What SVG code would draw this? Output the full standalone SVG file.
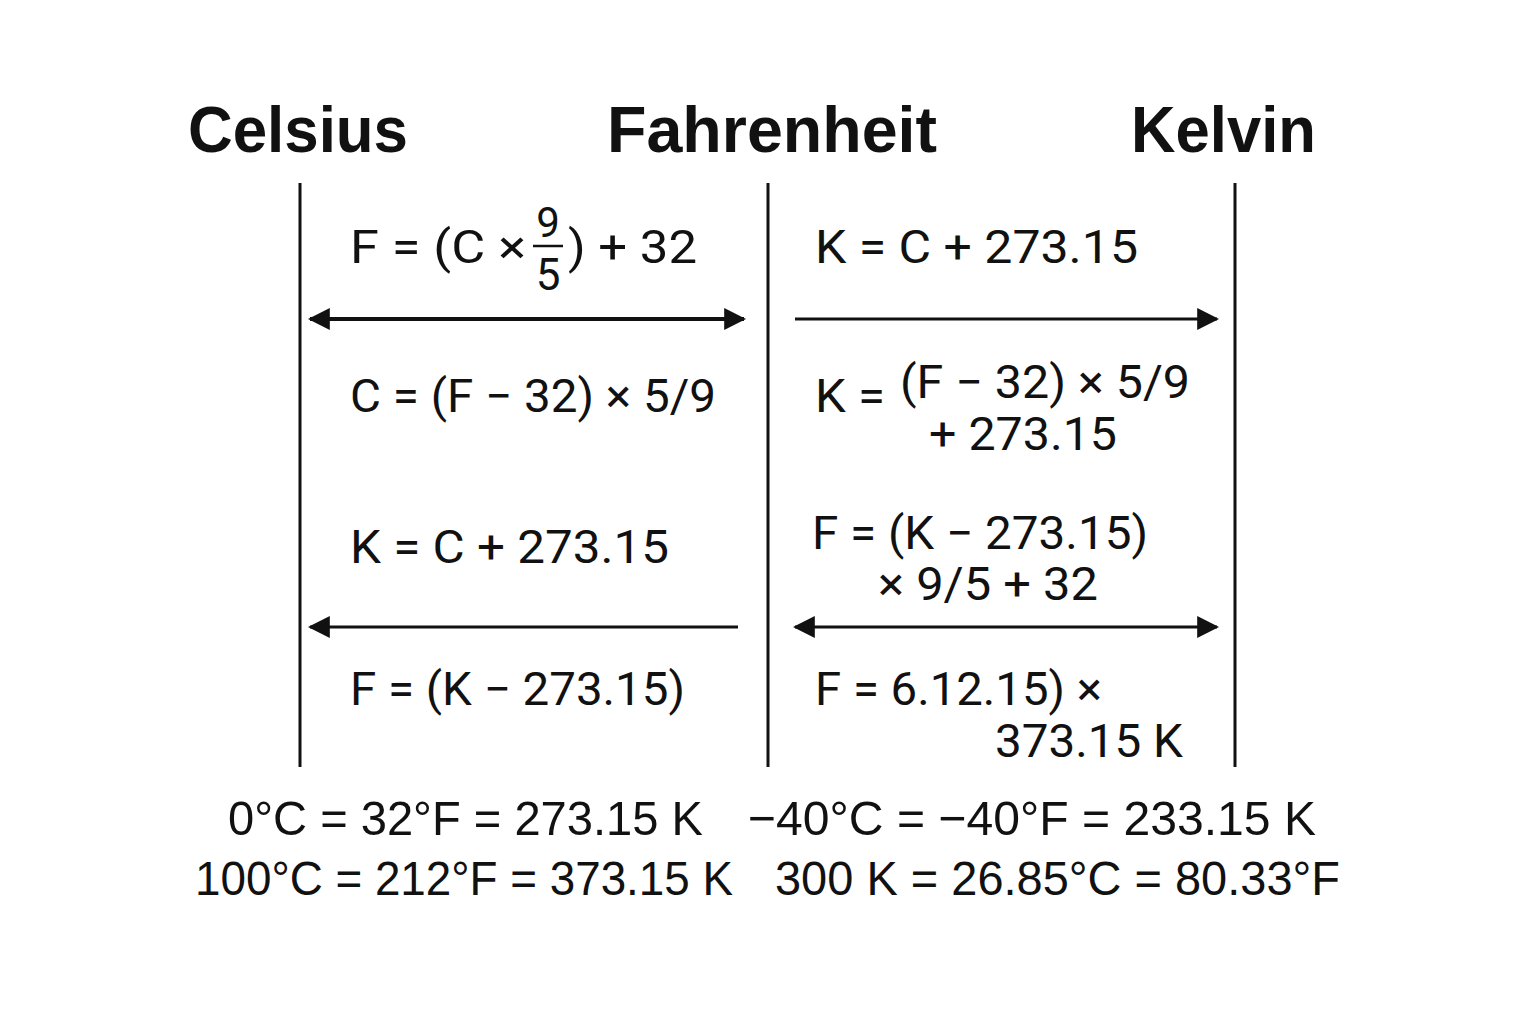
<svg xmlns="http://www.w3.org/2000/svg" width="1536" height="1024" viewBox="0 0 1536 1024">
<defs>
<marker id="ah" viewBox="0 0 10 10" refX="9" refY="5" markerWidth="22" markerHeight="22" markerUnits="userSpaceOnUse" orient="auto-start-reverse">
<path d="M0,0 L10,5 L0,10 z" fill="#111"/>
</marker>
<style>
.hd{font-family:"Liberation Sans",Arial,sans-serif;font-weight:bold;font-size:64px;fill:#111}
.f{font-family:Roboto,"Liberation Sans",sans-serif;font-size:46px;fill:#111}
.b{font-family:"Liberation Sans",Arial,sans-serif;font-size:49px;fill:#111}
.ax{stroke:#111;stroke-width:3;fill:none}
.ar{stroke:#111;stroke-width:3;fill:none}
</style>
</defs>
<rect width="1536" height="1024" fill="#fff"/>
<g id="header-celsius"><text class="hd" x="188" y="152" textLength="220" lengthAdjust="spacingAndGlyphs">Celsius</text></g>
<g id="header-fahrenheit"><text class="hd" x="607" y="152" textLength="330" lengthAdjust="spacingAndGlyphs">Fahrenheit</text></g>
<g id="header-kelvin"><text class="hd" x="1131" y="152" textLength="185" lengthAdjust="spacingAndGlyphs">Kelvin</text></g>
<g id="axes">
<line class="ax" x1="300" y1="183" x2="300" y2="767"/>
<line class="ax" x1="768" y1="183" x2="768" y2="767"/>
<line class="ax" x1="1235" y1="183" x2="1235" y2="767"/>
</g>
<g id="connectors">
<line class="ar" x1="310" y1="319" x2="744" y2="319" marker-start="url(#ah)" marker-end="url(#ah)" style="stroke-width:4"/>
<line class="ar" x1="795" y1="319" x2="1217" y2="319" marker-end="url(#ah)"/>
<line class="ar" x1="738" y1="627" x2="310" y2="627" marker-end="url(#ah)"/>
<line class="ar" x1="795" y1="627" x2="1217" y2="627" marker-start="url(#ah)" marker-end="url(#ah)"/>
</g>
<g id="f-c-to-f">
<text class="f" x="350" y="263" textLength="176" lengthAdjust="spacingAndGlyphs">F = (C ×</text>
<text class="f" x="548" y="237" text-anchor="middle" style="font-size:42px">9</text>
<line x1="533" y1="246" x2="563" y2="246" stroke="#111" stroke-width="2.5"/>
<text class="f" x="548" y="290" text-anchor="middle" style="font-size:44px">5</text>
<text class="f" x="568" y="263" textLength="129" lengthAdjust="spacingAndGlyphs">) + 32</text>
</g>
<g id="f-c-to-k"><text class="f" x="815" y="263" textLength="323" lengthAdjust="spacingAndGlyphs">K = C + 273.15</text></g>
<g id="f-f-to-c"><text class="f" x="350" y="412" textLength="366" lengthAdjust="spacingAndGlyphs">C = (F − 32) × 5/9</text></g>
<g id="f-f-to-k">
<text class="f" x="815" y="412" textLength="70" lengthAdjust="spacingAndGlyphs">K =</text>
<text class="f" x="900" y="398" textLength="290" lengthAdjust="spacingAndGlyphs">(F − 32) × 5/9</text>
<text class="f" x="929" y="450" textLength="188" lengthAdjust="spacingAndGlyphs">+ 273.15</text>
</g>
<g id="f-k-from-c"><text class="f" x="350" y="563" textLength="319" lengthAdjust="spacingAndGlyphs">K = C + 273.15</text></g>
<g id="f-k-to-f">
<text class="f" x="812" y="549" textLength="336" lengthAdjust="spacingAndGlyphs">F = (K − 273.15)</text>
<text class="f" x="878" y="600" textLength="220" lengthAdjust="spacingAndGlyphs">× 9/5 + 32</text>
</g>
<g id="f-k-to-f-left"><text class="f" x="350" y="705" textLength="335" lengthAdjust="spacingAndGlyphs">F = (K − 273.15)</text></g>
<g id="f-k-to-f-right">
<text class="f" x="815" y="705" textLength="287" lengthAdjust="spacingAndGlyphs">F = 6.12.15) ×</text>
<text class="f" x="995" y="757" textLength="188" lengthAdjust="spacingAndGlyphs">373.15 K</text>
</g>
<g id="examples">
<text class="b" x="228" y="835" textLength="475" lengthAdjust="spacingAndGlyphs">0°C = 32°F = 273.15 K</text>
<text class="b" x="748" y="835" textLength="568" lengthAdjust="spacingAndGlyphs">−40°C = −40°F = 233.15 K</text>
<text class="b" x="195" y="895" textLength="538" lengthAdjust="spacingAndGlyphs">100°C = 212°F = 373.15 K</text>
<text class="b" x="775" y="895" textLength="565" lengthAdjust="spacingAndGlyphs">300 K = 26.85°C = 80.33°F</text>
</g>
</svg>
